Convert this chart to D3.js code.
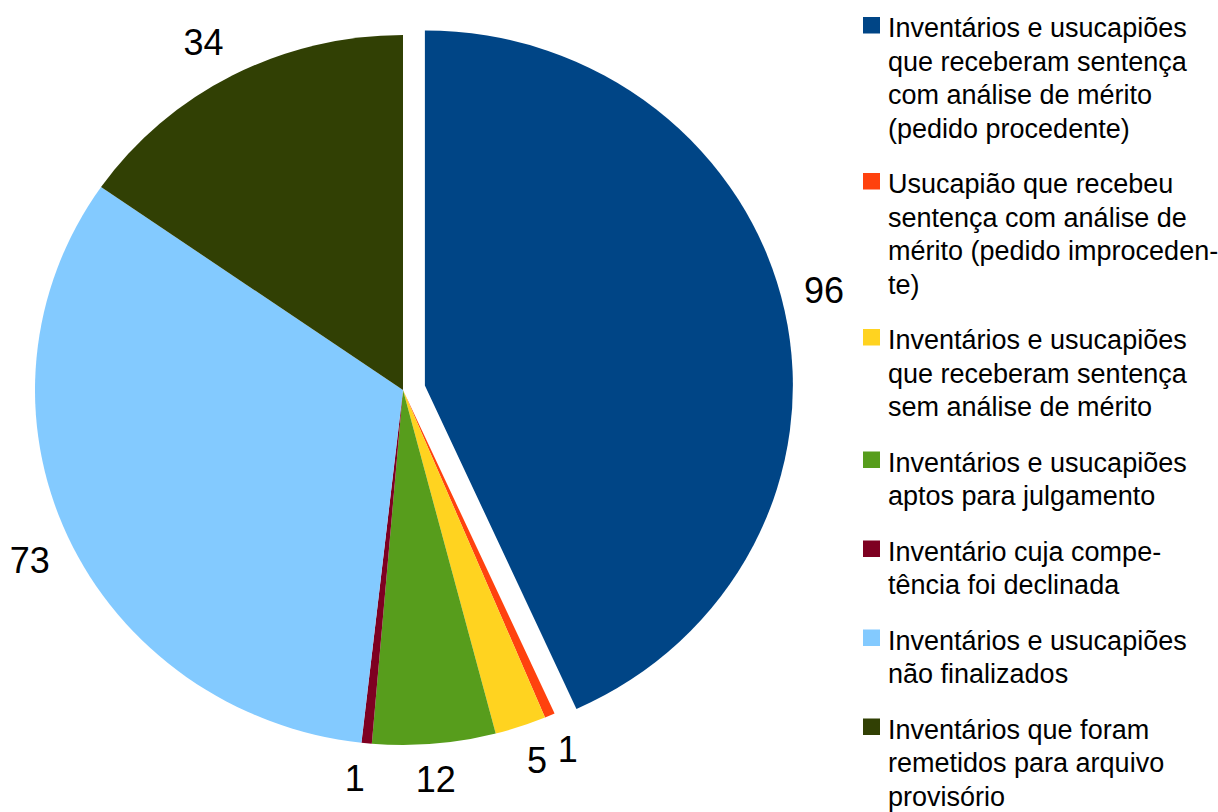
<!DOCTYPE html>
<html>
<head>
<meta charset="utf-8">
<script src="https://cdn.jsdelivr.net/npm/d3@7"></script>
<style>
  html, body { margin: 0; padding: 0; background: #fff; }
  svg text { font-family: "Liberation Sans", Arial, sans-serif; }
</style>
</head>
<body>
<div id="chartHolder"></div>
<script>
// categories, in the order the slices run clockwise from 12 o'clock
var categories = [
  "Inventários e usucapiões que receberam sentença com análise de mérito (pedido procedente)",
  "Usucapião que recebeu sentença com análise de mérito (pedido improcedente)",
  "Inventários e usucapiões que receberam sentença sem análise de mérito",
  "Inventários e usucapiões aptos para julgamento",
  "Inventário cuja competência foi declinada",
  "Inventários e usucapiões não finalizados",
  "Inventários que foram remetidos para arquivo provisório"
];
var values = [96, 1, 5, 12, 1, 73, 34];
// legend lines as wrapped in the original
var legendLines = [
  ["Inventários e usucapiões", "que receberam sentença", "com análise de mérito", "(pedido procedente)"],
  ["Usucapião que recebeu", "sentença com análise de", "mérito (pedido improceden-", "te)"],
  ["Inventários e usucapiões", "que receberam sentença", "sem análise de mérito"],
  ["Inventários e usucapiões", "aptos para julgamento"],
  ["Inventário cuja compe-", "tência foi declinada"],
  ["Inventários e usucapiões", "não finalizados"],
  ["Inventários que foram", "remetidos para arquivo", "provisório"]
];
var colors = ["#004586", "#ff420e", "#ffd320", "#579d1c", "#7e0021", "#83caff", "#314004"];
var explodedIndex = 0;

var width = 1218, height = 812;
var cx = 403, cy = 390;
var radius = 355, stretchX = 368 / 355;   // pie is slightly wider than tall
var explode = 21.6, labelRadius = 374, labelH = 33;
var centerZone = 5.3 * Math.PI / 180;     // labels this close to 6/12 o'clock are centred

var svg = d3.select("#chartHolder")
  .append("svg")
  .attr("width", width)
  .attr("height", height);

var data = categories.map(function (c, i) { return { name: c, value: values[i], color: colors[i] }; });

var pie = d3.pie().sort(null).value(function (d) { return d.value; });
var arcs = pie(data);
var arc = d3.arc().innerRadius(0).outerRadius(radius);

var pieG = svg.append("g")
  .attr("transform", "translate(" + cx + "," + cy + ") scale(" + stretchX + ",1)");

function offset(d, r) {
  var a = (d.startAngle + d.endAngle) / 2;
  return [Math.sin(a) * r, -Math.cos(a) * r];
}

pieG.selectAll("path")
  .data(arcs)
  .enter()
  .append("path")
  .attr("d", arc)
  .attr("fill", function (d) { return d.data.color; })
  .attr("transform", function (d) {
    if (d.index !== explodedIndex) return null;
    var o = offset(d, explode);
    return "translate(" + o[0] + "," + o[1] + ")";
  });

// value labels: box corner sits on an anchor just outside the rim
svg.append("g")
  .selectAll("text")
  .data(arcs)
  .enter()
  .append("text")
  .attr("text-anchor", "middle")
  .attr("dy", "0.35em")
  .attr("font-size", 36)
  .attr("fill", "#000")
  .text(function (d) { return d.data.value; })
  .each(function (d) {
    var w = this.getComputedTextLength();
    var a = (d.startAngle + d.endAngle) / 2;
    var ex = d.index === explodedIndex ? offset(d, explode) : [0, 0];
    var o = offset(d, labelRadius);
    var ax = cx + (o[0] + ex[0]) * stretchX;
    var ay = cy + o[1] + ex[1];
    var sx = Math.sin(a) >= 0 ? 1 : -1;
    var sy = -Math.cos(a) >= 0 ? 1 : -1;
    var nearVertical = Math.abs(Math.sin(a)) < Math.sin(centerZone);
    if (nearVertical) sx = 0;
    d3.select(this)
      .attr("x", ax + sx * w / 2)
      .attr("y", ay + sy * labelH / 2);
  });

// legend
var legendX = 863, lineH = 33.5, itemGap = 55.5, fontSize = 27;
var legend = svg.append("g");
var baseline = 37;
legendLines.forEach(function (lines, i) {
  var item = legend.append("g");
  item.append("rect")
    .attr("x", legendX)
    .attr("y", baseline - 20)
    .attr("width", 17)
    .attr("height", 16.5)
    .attr("fill", colors[i]);
  item.selectAll("text")
    .data(lines)
    .enter()
    .append("text")
    .attr("x", legendX + 25)
    .attr("y", function (l, j) { return baseline + j * lineH; })
    .attr("font-size", fontSize)
    .attr("fill", "#000")
    .text(function (l) { return l; });
  baseline += (lines.length - 1) * lineH + itemGap;
});
</script>
</body>
</html>
